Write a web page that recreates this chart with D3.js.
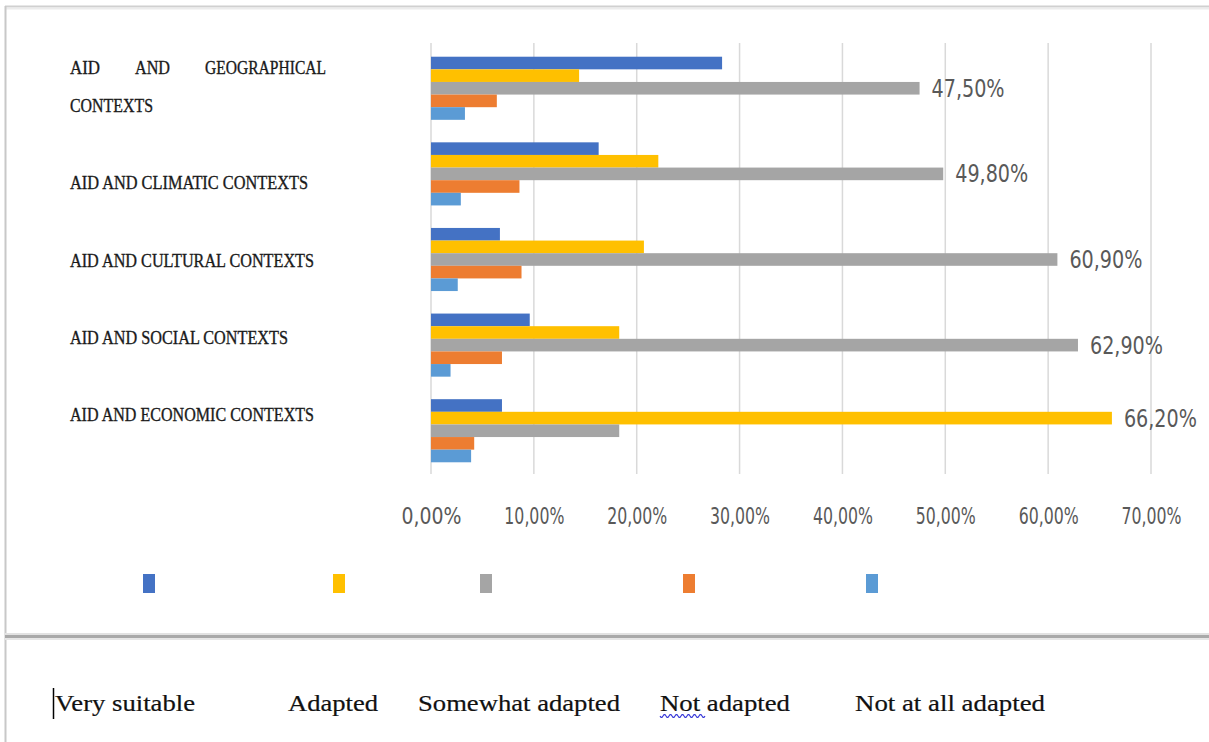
<!DOCTYPE html>
<html><head><meta charset="utf-8">
<script src="https://cdn.jsdelivr.net/npm/d3@7/dist/d3.min.js"></script>
<style>
html,body{margin:0;padding:0;background:#fff;}
svg{display:block;}
</style></head>
<body>
<svg id="chart" width="1209" height="742"></svg>
<script>
// ---- data ----
const categories = ["AID AND GEOGRAPHICAL CONTEXTS","AID AND CLIMATIC CONTEXTS","AID AND CULTURAL CONTEXTS","AID AND SOCIAL CONTEXTS","AID AND ECONOMIC CONTEXTS"];
const seriesNames = ["Very suitable","Adapted","Somewhat adapted","Not adapted","Not at all adapted"];
const verySuitable   = [28.3, 16.3, 6.7, 9.6, 6.9];
const adapted        = [14.4, 22.1, 20.7, 18.3, 66.2];
const somewhatAdapted= [47.5, 49.8, 60.9, 62.9, 18.3];
const notAdapted     = [6.4, 8.6, 8.8, 6.9, 4.2];
const notAtAll       = [3.3, 2.9, 2.6, 1.9, 3.9];
const xTicks = [0,10,20,30,40,50,60,70];
const colors = ["#4472C4","#FFC000","#A5A5A5","#ED7D31","#5B9BD5"];

const seriesValues = [verySuitable, adapted, somewhatAdapted, notAdapted, notAtAll];

const svg = d3.select("#chart");
const narrow = "'Liberation Sans Narrow','Arial Narrow','DejaVu Sans Condensed',sans-serif";
const serif = "'Liberation Serif','Times New Roman',serif";

// frame
svg.append("rect").attr("x",0).attr("y",0).attr("width",1209).attr("height",742).attr("fill","#fff");
svg.append("line").attr("x1",5).attr("x2",1209).attr("y1",6.5).attr("y2",6.5).attr("stroke","#d0d0d0").attr("stroke-width",2);
svg.append("line").attr("x1",5).attr("x2",1209).attr("y1",8.5).attr("y2",8.5).attr("stroke","#ececec").attr("stroke-width",2);
svg.append("line").attr("x1",5.5).attr("x2",5.5).attr("y1",6).attr("y2",742).attr("stroke","#c8c8c8").attr("stroke-width",2);
svg.append("line").attr("x1",5).attr("x2",1209).attr("y1",634).attr("y2",634).attr("stroke","#e2e2e2").attr("stroke-width",2);
svg.append("line").attr("x1",5).attr("x2",1209).attr("y1",636.5).attr("y2",636.5).attr("stroke","#a9a9a9").attr("stroke-width",3);
svg.append("line").attr("x1",5).attr("x2",1209).attr("y1",639).attr("y2",639).attr("stroke","#e6e6e6").attr("stroke-width",2);

// scales
const x = d3.scaleLinear().domain([0,70]).range([431,1151]);
const y = d3.scaleBand().domain(categories).range([45.5,473.5]).paddingInner(0.263).paddingOuter(0.131);
const yInner = d3.scaleBand().domain(d3.range(seriesNames.length)).range([0,y.bandwidth()]);

// gridlines
svg.append("g").selectAll("line").data(xTicks).join("line")
  .attr("x1",d=>x(d)).attr("x2",d=>x(d)).attr("y1",43).attr("y2",474)
  .attr("stroke","#d9d9d9").attr("stroke-width",1.5);

// x axis labels
const xAxis = d3.axisBottom(x).tickValues(xTicks).tickSize(0)
  .tickFormat(d=>d3.format(".2f")(d).replace(".",",")+"%");
const gx = svg.append("g").attr("transform","translate(0,505)").call(xAxis);
gx.select(".domain").remove();
gx.selectAll("text").attr("font-family",narrow).attr("font-size",23).attr("fill","#595959")
  .attr("textLength",60).attr("lengthAdjust","spacingAndGlyphs");

// bars
const groups = svg.append("g").selectAll("g").data(categories).join("g")
  .attr("transform",c=>`translate(0,${y(c)})`);
groups.selectAll("rect").data((c,ci)=>seriesValues.map((s,si)=>({si, v:s[ci]})))
  .join("rect")
  .attr("x",x(0)).attr("y",d=>yInner(d.si)).attr("width",d=>x(d.v)-x(0))
  .attr("height",yInner.bandwidth()).attr("fill",d=>colors[d.si]);

// data labels: largest value per category
groups.each(function(c,ci){
  const vals = seriesValues.map(s=>s[ci]);
  const si = vals.indexOf(d3.max(vals));
  d3.select(this).append("text")
    .attr("x",x(vals[si])+12).attr("y",yInner(si)+yInner.bandwidth()/2)
    .attr("dy","0.35em").attr("font-family",narrow).attr("font-size",24).attr("fill","#595959")
    .attr("textLength",73).attr("lengthAdjust","spacingAndGlyphs")
    .text(d3.format(".2f")(vals[si]).replace(".",",")+"%");
});

// category labels (separate text block, as in the reference)
const lineStep = 38.6, firstBase = 73.5;
const labelLines = [
  {i:0, words:["AID","AND","GEOGRAPHICAL"], just:[70,135,205], ends:[100,170,326]},
  {i:1, words:["CONTEXTS"], just:[70], ends:[153]},
  {i:3, words:[categories[1]], just:[70], ends:[308]},
  {i:5, words:[categories[2]], just:[70], ends:[314]},
  {i:7, words:[categories[3]], just:[70], ends:[288]},
  {i:9, words:[categories[4]], just:[70], ends:[314]}
];
const lab = svg.append("g");
labelLines.forEach(l=>{
  l.words.forEach((w,k)=>{
    lab.append("text").attr("x",l.just[k]).attr("y",firstBase+l.i*lineStep)
      .attr("font-family",serif).attr("font-size",19).attr("fill","#1a1a1a")
      .attr("stroke","#1a1a1a").attr("stroke-width",0.35)
      .attr("textLength",l.ends[k]-l.just[k]).attr("lengthAdjust","spacingAndGlyphs")
      .text(w);
  });
});

// legend markers
const legendX = [143,333,480,683,866];
svg.append("g").selectAll("rect").data(seriesNames).join("rect")
  .attr("x",(d,i)=>legendX[i]).attr("y",574).attr("width",12).attr("height",19)
  .attr("fill",(d,i)=>colors[i]);

// legend text (below separator)
const legendTextX = [53,288,418,660,855];
const legendTextW = [142,90,202,130,190];
svg.append("g").selectAll("text").data(seriesNames).join("text")
  .attr("x",(d,i)=>legendTextX[i]+(i===0?2:0)).attr("y",711)
  .attr("font-family",serif).attr("font-size",23).attr("fill","#111")
  .attr("stroke","#111").attr("stroke-width",0.2)
  .attr("textLength",(d,i)=>legendTextW[i]-(i===0?2:0)).attr("lengthAdjust","spacingAndGlyphs")
  .text(d=>d);

// text cursor
svg.append("line").attr("x1",53.5).attr("x2",53.5).attr("y1",688).attr("y2",719)
  .attr("stroke","#000").attr("stroke-width",1.5);

// wavy underline under "Not"
const wave = d3.range(0,46,1).map(t=>[660+t, 716+1.6*Math.sin(t*Math.PI/3)]);
svg.append("path").attr("d",d3.line()(wave)).attr("fill","none").attr("stroke","#3a3ad8").attr("stroke-width",1.2);
</script>
</body></html>
